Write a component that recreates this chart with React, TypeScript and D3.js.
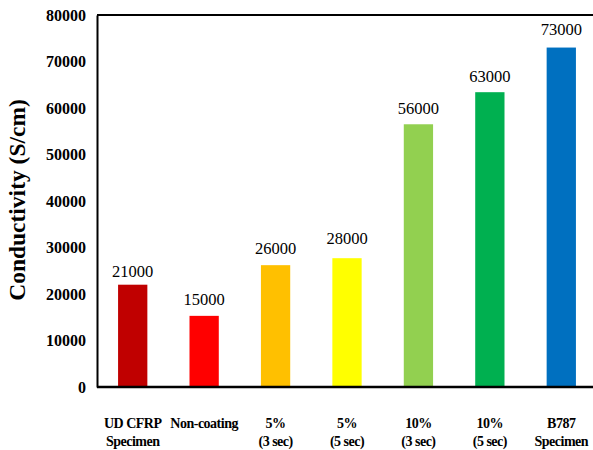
import * as d3 from "d3";
import { useRef, useEffect } from "react";

const categories = ["UD CFRP|Specimen", "Non-coating", "5%|(3 sec)", "5%|(5 sec)", "10%|(3 sec)", "10%|(5 sec)", "B787|Specimen"];
const values = [22000, 15300, 26200, 27700, 56500, 63400, 73000];
const valueLabels = ["21000", "15000", "26000", "28000", "56000", "63000", "73000"];
const colors = ["#C00000", "#FF0000", "#FFC000", "#FFFF00", "#92D050", "#00B050", "#0070C0"];
const yTicks = [0, 10000, 20000, 30000, 40000, 50000, 60000, 70000, 80000];

export default function App() {
    const width = 593;
    const height = 450;
    const marginTop = 15;
    const marginLeft = 97;
    const baseline = 387;
    const font = "Liberation Serif";
    const gy = useRef<SVGGElement>(null);

    const x = d3.scaleBand(categories, [marginLeft, 597]).paddingInner(0.59).paddingOuter(0.295);
    const y = d3.scaleLinear([0, 80000], [baseline, marginTop]);

    useEffect(() => {
        if (gy.current) {
            const g = d3.select(gy.current);
            g.call(d3.axisLeft(y).tickValues(yTicks).tickSize(0).tickPadding(11).tickFormat(d3.format("d")));
            g.attr("font-family", null).attr("font-size", null);
            g.select(".domain").attr("stroke", "#000").attr("stroke-width", 2);
            g.selectAll("text")
                .style("font-family", font)
                .style("font-weight", "bold")
                .style("font-size", "16px")
                .attr("fill", "#000");
        }
    }, [gy, y]);

    return (
        <div>
            <svg width={width} height={height} style={{ position: "absolute", left: 0, top: 0, fontFamily: font }}>
                <rect width={width} height={height} fill="#fff" />
                <line x1={marginLeft} x2={width} y1={marginTop} y2={marginTop} stroke="#000" strokeWidth={2} />
                {categories.map((c, i) => (
                    <rect key={c} x={x(c)} y={y(values[i])} width={x.bandwidth()} height={baseline - y(values[i])} fill={colors[i]} />
                ))}
                <line x1={marginLeft} x2={width} y1={baseline} y2={baseline} stroke="#000" strokeWidth={2.5} />
                <g ref={gy} transform={`translate(${marginLeft},0)`} />
                <g style={{ fontFamily: font, fontSize: 16.5 }} textAnchor="middle" fill="#000">
                    {categories.map((c, i) => (
                        <text key={c} x={(x(c) ?? 0) + x.bandwidth() / 2} y={y(+valueLabels[i]) - 12.5}>{valueLabels[i]}</text>
                    ))}
                </g>
                <g style={{ fontFamily: font, fontSize: 14, fontWeight: "bold", letterSpacing: -0.5 }} textAnchor="middle" fill="#000">
                    {categories.map((c) => (
                        <text key={c} x={(x(c) ?? 0) + x.bandwidth() / 2} y={428}>
                            {c.split("|").map((line, j) => (
                                <tspan key={j} x={(x(c) ?? 0) + x.bandwidth() / 2} dy={j === 0 ? 0 : 18}>{line}</tspan>
                            ))}
                        </text>
                    ))}
                </g>
                <text transform="translate(25,200) rotate(-90)" textAnchor="middle" style={{ fontFamily: font, fontWeight: "bold", fontSize: 23.5 }} fill="#000">
                    Conductivity (S/cm)
                </text>
            </svg>
        </div>
    );
}
